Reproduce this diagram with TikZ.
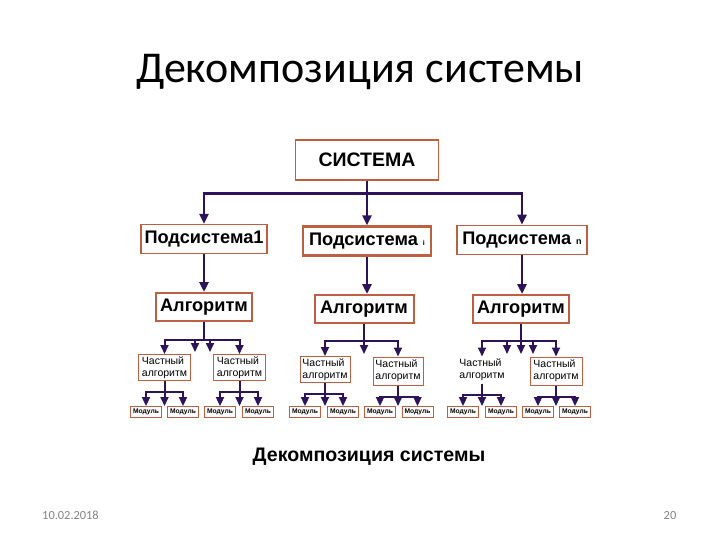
\documentclass[tikz,border=0pt]{standalone}
\usepackage{fontspec}
\setmainfont{Carlito}
\newfontfamily\boxfont{Liberation Sans}
\usetikzlibrary{arrows.meta}

\definecolor{boxred}{RGB}{190,95,65}
\definecolor{linkblue}{RGB}{45,20,90}
\definecolor{footgray}{RGB}{130,130,130}

\tikzset{
  box/.style={draw=boxred,line width=1.6pt,fill=white,inner sep=0pt,font=\boxfont\bfseries},
  sysbox/.style={box,minimum width=143pt,minimum height=40pt,font=\boxfont\bfseries\fontsize{19.5}{20}\selectfont},
  subbox/.style={box,minimum width=128pt,minimum height=29pt,font=\boxfont\bfseries\fontsize{18.2}{19}\selectfont},
  algbox/.style={box,line width=2pt,minimum width=96pt,minimum height=28pt,font=\boxfont\bfseries\fontsize{18.2}{19}\selectfont},
  partbox/.style={box,line width=1pt,minimum width=52pt,minimum height=26pt,align=left,
    font=\boxfont\fontsize{10.5}{12}\selectfont},
  modbox/.style={box,line width=0.9pt,minimum width=31pt,minimum height=11pt,font=\boxfont\bfseries\fontsize{6.7}{7}\selectfont},
  link/.style={draw=linkblue,line width=2.6pt,-{Triangle[width=9pt,length=10pt]}},
  sublink/.style={link,line width=2pt,-{Triangle[width=8pt,length=9pt]}},
  foot/.style={text=footgray,anchor=base,font=\fontsize{12.4}{13}\selectfont}
}

\begin{document}
\begin{tikzpicture}[x=1pt,y=-1pt]
\useasboundingbox (0,0) rectangle (720,540);

% title and footer
\node (title) at (360,72) {\fontsize{44}{48}\selectfont Декомпозиция системы};
\node[foot] (date) at (70.5,519) {10.02.2018};
\node[foot] (page) at (670,519) {20};

% top levels
\node[sysbox] (sys) at (367,160) {СИСТЕМА};
\node[subbox,minimum width=126pt,line width=1.2pt] (sub1) at (204,239) {Подсистема1};
\node[subbox,line width=2.2pt] (subi) at (367,241) {Подсистема {\fontsize{7}{7}\selectfont i}};
\node[subbox,minimum width=130pt] (subn) at (522,240) {Подсистема {\fontsize{9}{9}\selectfont n}};

\node[algbox] (alg1) at (204,307) {Алгоритм};
\node[algbox,minimum width=99pt] (alg2) at (364,309) {Алгоритм};
\node[algbox] (alg3) at (521,309) {Алгоритм};

% partial algorithms
\node[partbox] (p11) at (164.5,367.5) {Частный\\алгоритм};
\node[partbox] (p12) at (239.5,367.5) {Частный\\алгоритм};
\node[partbox,minimum width=50pt] (p21) at (325,369.5) {Частный\\алгоритм};
\node[partbox,minimum width=50pt,minimum height=28pt] (p22) at (398,371) {Частный\\алгоритм};
\node[partbox,draw=none] (p31) at (482,370) {Частный\\алгоритм};
\node[partbox,minimum height=28pt] (p32) at (556,371) {Частный\\алгоритм};

% modules
\foreach \n/\x in {1/146,2/183,3/220,4/258,5/305,6/343,7/380,8/417.5,9/463,10/501,11/538,12/575}
  \node[modbox] (m\n) at (\x,412) {Модуль};

% free arrow ends
\coordinate (f11) at (195,352);
\coordinate (f12) at (210,352);
\coordinate (f21) at (364,354);
\coordinate (f31) at (507,354);
\coordinate (f32) at (521,354);
\coordinate (f33) at (533,354);
\foreach \p/\x in {p11/164.5,p12/239.5,p21/325,p22/398,p31/482,p32/556}
  \coordinate (\p f) at (\x,406);

% system to subsystems
\draw[link] (sys.south) -- ++(0,13) -| (sub1.north);
\draw[link] (sys.south) -- (sys.south |- subi.north);
\draw[link] (sys.south) -- ++(0,13) -| (subn.north);

\draw[link] (sub1.south) -- (sub1.south |- alg1.north);
\draw[link] (subi.south) -- (subi.south |- alg2.north);
\draw[link] (subn.south) -- (subn.south |- alg3.north);

% algorithms to partial algorithms
\foreach \t in {p11,f11,f12,p12}
  \draw[sublink] (alg1.south) -- ++(0,18) -| (\t.north);
\foreach \t in {p21,f21,p22}
  \draw[sublink] (alg2.south) -- ++(0,17) -| (\t.north);
\foreach \t in {p31,f31,f32,f33,p32}
  \draw[sublink] (alg3.south) -- ++(0,17) -| (\t.north);

% partial algorithms to modules
\foreach \p/\a/\b in {p11/m1/m2,p12/m3/m4,p21/m5/m6,p22/m7/m8,p31/m9/m10,p32/m11/m12}
{
  \draw[sublink] (\p.south) -- ++(0,11) -| (\a.north);
  \draw[sublink] (\p.south) -- (\p f);
  \draw[sublink] (\p.south) -- ++(0,11) -| (\b.north);
}

\node (caption) at (369,457) {\boxfont\bfseries\fontsize{19.6}{20}\selectfont Декомпозиция системы};
\end{tikzpicture}
\end{document}
